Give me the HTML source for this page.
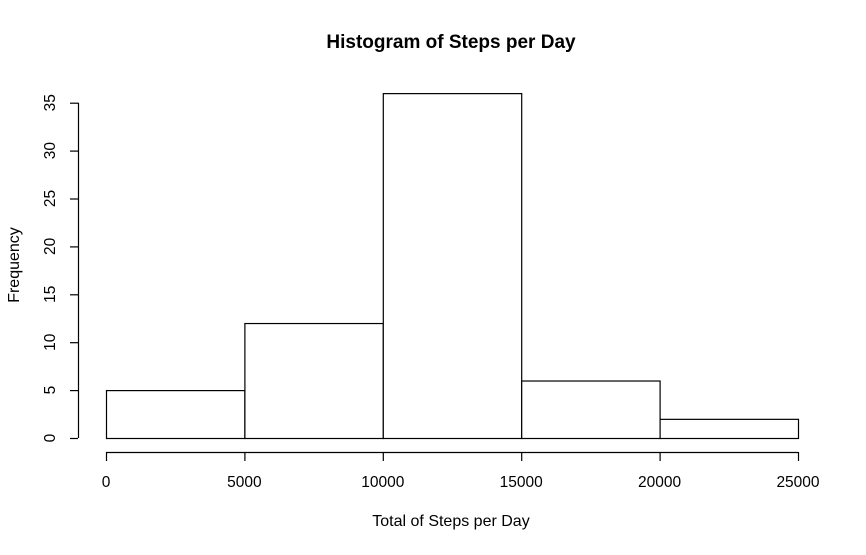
<!DOCTYPE html>
<html><head><meta charset="utf-8"><style>
html,body{margin:0;padding:0;background:#fff;}
svg text{font-family:"Liberation Sans",Arial,sans-serif;fill:#000;}
</style></head><body>
<svg id="chart" width="866" height="550" viewBox="0 0 866 550">
<rect width="866" height="550" fill="#fff"/>
<text x="451" y="48" font-size="19" font-weight="bold" text-anchor="middle">Histogram of Steps per Day</text>
<text x="451" y="526" font-size="16" text-anchor="middle">Total of Steps per Day</text>
<text transform="translate(19,265) rotate(-90)" font-size="16" text-anchor="middle">Frequency</text>
<g id="bars"></g><g id="xaxis"></g><g id="yaxis"></g>
</svg>
<script>
const binEdges=[0,5000,10000,15000,20000,25000];
const counts=[5,12,36,6,2];
const xTicks=[0,5000,10000,15000,20000,25000];
const yTicks=[0,5,10,15,20,25,30,35];
const NS="http://www.w3.org/2000/svg";
function X(v){return 106+(v/25000)*692;}
function Y(v){return 438-v*9.58;}
function mk(t,a,p){const e=document.createElementNS(NS,t);for(const k in a)e.setAttribute(k,a[k]);p.appendChild(e);return e;}
const bars=document.getElementById('bars');
counts.forEach((c,i)=>{
 const r=mk('rect',{x:X(binEdges[i])+0.5,y:Y(c)+0.5,width:X(binEdges[i+1])-X(binEdges[i]),height:Y(0)-Y(c),fill:'#fff',stroke:'#000','stroke-width':1.2},bars);
 
 
});
const xa=document.getElementById('xaxis');
const xl=mk('line',{x1:X(0),x2:X(25000),y1:452.5,y2:452.5,stroke:'#000','stroke-width':1.2},xa);


xTicks.forEach(v=>{
 mk('line',{x1:X(v)+0.5,x2:X(v)+0.5,y1:452,y2:461,stroke:'#000','stroke-width':1.2},xa);
 const t=mk('text',{x:X(v),y:487,'font-size':15.5,'text-anchor':'middle'},xa);
 t.textContent=v;
 
 
});
const ya=document.getElementById('yaxis');
const yl=mk('line',{x1:78.5,x2:78.5,y1:Y(0),y2:Y(35),stroke:'#000','stroke-width':1.2},ya);


yTicks.forEach(v=>{
 mk('line',{x1:70,x2:78,y1:Y(v)+0.5,y2:Y(v)+0.5,stroke:'#000','stroke-width':1.2},ya);
 const t=mk('text',{transform:'translate(55,'+Y(v)+') rotate(-90)','font-size':15.5,'text-anchor':'middle'},ya);
 t.textContent=v;
 
 
});
</script>
</body></html>
